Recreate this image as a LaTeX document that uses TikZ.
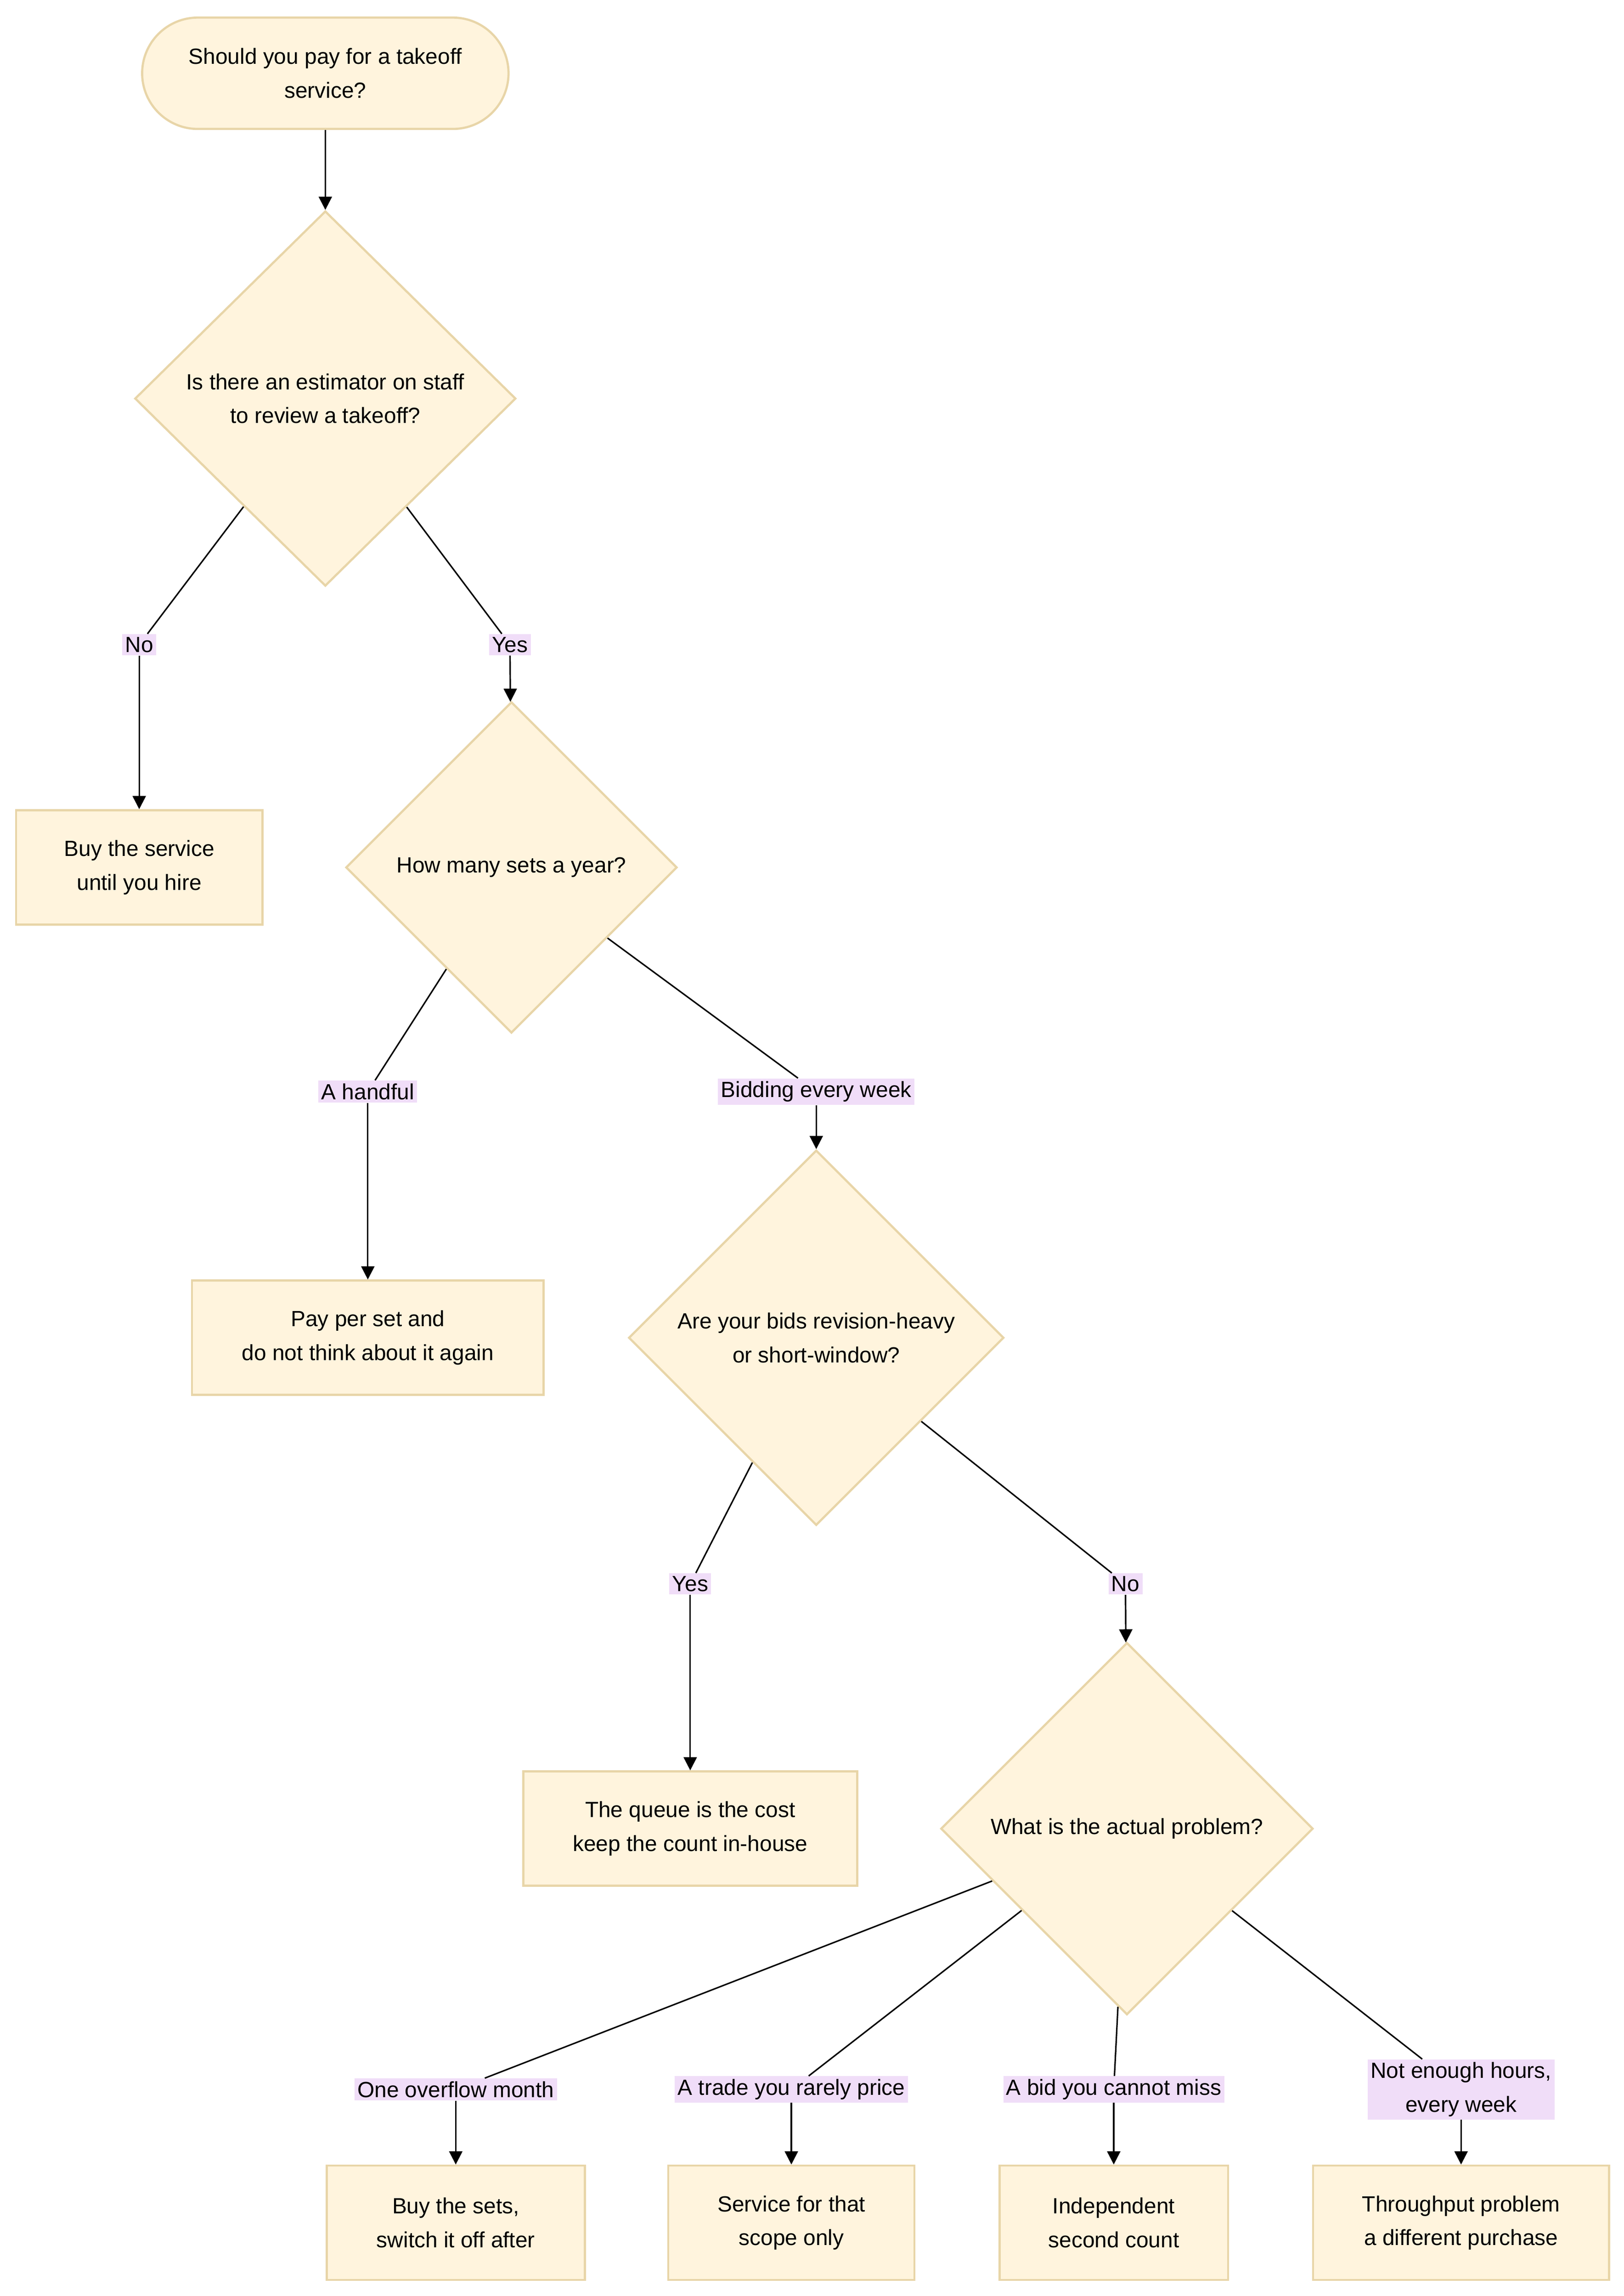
\documentclass[tikz,border=0pt]{standalone}
\usepackage{fontspec}
\setmainfont{Liberation Sans}
\usetikzlibrary{shapes.geometric,arrows.meta}
\definecolor{nfill}{HTML}{FFF4DD}
\definecolor{nline}{HTML}{E8D5A8}
\definecolor{lfill}{HTML}{F0DDF8}
\begin{document}
\begin{tikzpicture}[x=1pt,y=-1pt,font=\fontsize{15}{23}\selectfont,
  box/.style={draw=nline,fill=nfill,line width=1.5pt,align=center,minimum height=78pt,inner sep=0pt},
  dia/.style={draw=nline,fill=nfill,line width=1.5pt,diamond,align=center,inner sep=0pt},
  lab/.style={fill=lfill,align=center,inner sep=2pt},
  ln/.style={draw=black,line width=1pt},
  ar/.style={ln,-{Triangle[length=9pt,width=9pt]}}]
\useasboundingbox (0,0) rectangle (1108,1567);
\node[box,rounded corners=38pt,minimum width=250pt,minimum height=76pt] (s) at (222,50) {Should you pay for a takeoff\\service?};
\node[dia,minimum width=260pt,minimum height=256pt] (d1) at (222,272) {Is there an estimator on staff\\to review a takeoff?};
\node[lab] (l1) at (95,440) {No};
\node[lab] (l2) at (348,440) {Yes};
\node[box,minimum width=168pt] (b1) at (95,592) {Buy the service\\until you hire};
\node[dia,minimum width=226pt,minimum height=226pt] (d2) at (349,592) {How many sets a year?};
\node[lab] (l3) at (251,745) {A handful};
\node[lab] (l4) at (557,745) {Bidding every week};
\node[box,minimum width=240pt] (b2) at (251,913) {Pay per set and\\do not think about it again};
\node[dia,minimum width=256pt,minimum height=256pt] (d3) at (557,913) {Are your bids revision-heavy\\or short-window?};
\node[lab] (l5) at (471,1081) {Yes};
\node[lab] (l6) at (768,1081) {No};
\node[box,minimum width=228pt] (b3) at (471,1248) {The queue is the cost\\keep the count in-house};
\node[dia,minimum width=254pt,minimum height=254pt] (d4) at (769,1248) {What is the actual problem?};
\node[lab] (l7) at (311,1426) {One overflow month};
\node[lab] (l8) at (540,1426) {A trade you rarely price};
\node[lab] (l9) at (760,1426) {A bid you cannot miss};
\node[lab] (l10) at (997,1426) {Not enough hours,\\every week};
\node[box,minimum width=176pt] (b4) at (311,1517) {Buy the sets,\\switch it off after};
\node[box,minimum width=168pt] (b5) at (540,1517) {Service for that\\scope only};
\node[box,minimum width=156pt] (b6) at (760,1517) {Independent\\second count};
\node[box,minimum width=202pt] (b7) at (997,1517) {Throughput problem\\a different purchase};
\draw[ar] (s) -- (d1);
\draw[ln] (d1) -- (l1); \draw[ar] (l1) -- (b1);
\draw[ln] (d1) -- (l2); \draw[ar] (l2) -- (d2);
\draw[ln] (d2) -- (l3); \draw[ar] (l3) -- (b2);
\draw[ln] (d2) -- (l4); \draw[ar] (l4) -- (d3);
\draw[ln] (d3) -- (l5); \draw[ar] (l5) -- (b3);
\draw[ln] (d3) -- (l6); \draw[ar] (l6) -- (d4);
\draw[ln] (d4) -- (l7); \draw[ar] (l7) -- (b4);
\draw[ln] (d4) -- (l8); \draw[ar] (l8) -- (b5);
\draw[ln] (d4) -- (l9); \draw[ar] (l9) -- (b6);
\draw[ln] (d4) -- (l10); \draw[ar] (l10) -- (b7);
\end{tikzpicture}
\end{document}
